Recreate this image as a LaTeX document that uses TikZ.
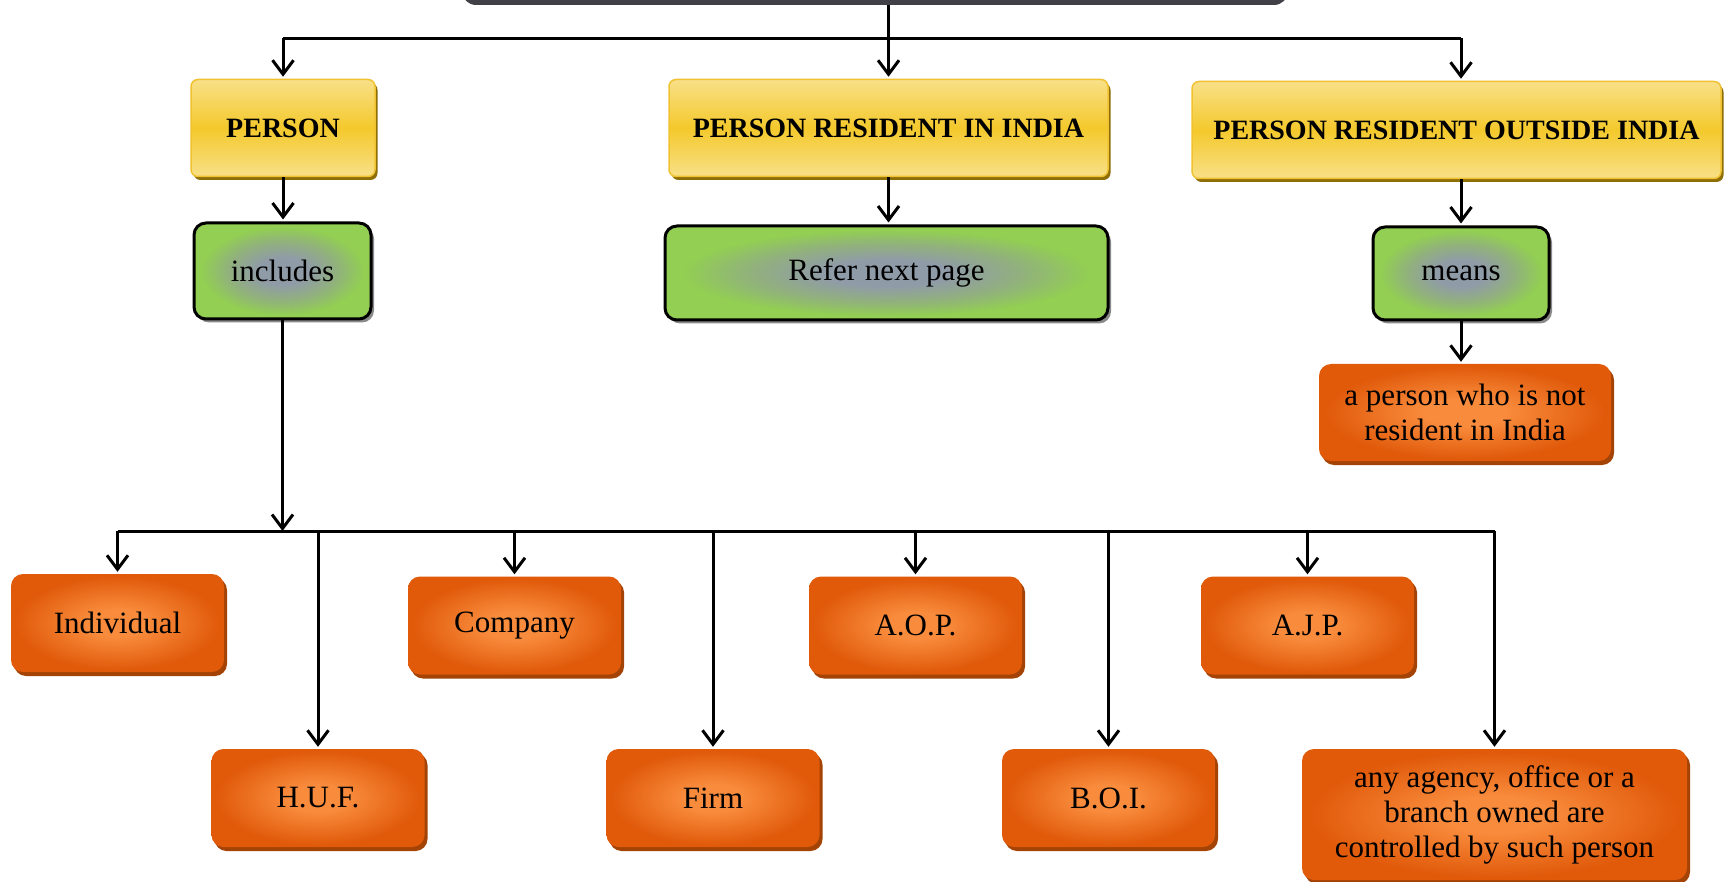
\documentclass[tikz,border=0pt]{standalone}
\usepackage{fontspec}
\setmainfont{Liberation Serif}
\usetikzlibrary{arrows.meta,shadows}

\definecolor{barc}{HTML}{404046}
\definecolor{yLight}{HTML}{F8E088}
\definecolor{yMid}{HTML}{F4C92C}
\definecolor{yEdge}{HTML}{F0C232}
\definecolor{yShadow}{HTML}{8E6E06}
\definecolor{gGreen}{HTML}{92CF52}
\definecolor{gBlob}{HTML}{909BA8}
\definecolor{gSoft}{HTML}{91B07E}
\definecolor{gShadow}{HTML}{8A8A8A}
\definecolor{oLight}{HTML}{F98B3C}
\definecolor{oDark}{HTML}{E05A0A}
\definecolor{oShadow}{HTML}{A44306}

% green boxes: soft grey-blue glow in the middle
\pgfdeclareradialshading{greenblob}{\pgfpoint{0bp}{0bp}}{color(0bp)=(gBlob); color(7bp)=(gBlob); color(15bp)=(gSoft); color(23bp)=(gGreen); color(50bp)=(gGreen)}
% orange boxes: lighter centre
\pgfdeclareradialshading{orangeglow}{\pgfpoint{0bp}{0bp}}{color(0bp)=(oLight); color(7bp)=(oLight); color(24bp)=(oDark); color(50bp)=(oDark)}

\tikzset{
  bar/.style={fill=barc, rounded corners=14pt, inner sep=0pt},
  headbox/.style={rounded corners=7pt, draw=yEdge, line width=1.5pt,
    top color=yLight, bottom color=yLight, middle color=yMid,
    drop shadow={shadow xshift=2.5pt, shadow yshift=-3.5pt, fill=yShadow, opacity=1},
    minimum height=97pt, inner sep=0pt,
    font=\fontsize{28}{32}\selectfont\bfseries},
  notebox/.style={rounded corners=12pt, draw=black, line width=3pt,
    shade, shading=greenblob,
    drop shadow={shadow xshift=3pt, shadow yshift=-3.5pt, fill=gShadow, opacity=1},
    inner sep=0pt, font=\fontsize{31}{35}\selectfont},
  leaf/.style={rounded corners=12pt, shade, shading=orangeglow,
    drop shadow={shadow xshift=3pt, shadow yshift=-4pt, fill=oShadow, opacity=1},
    minimum width=213pt, minimum height=98pt, inner sep=0pt, align=center,
    font=\fontsize{31}{35}\selectfont},
  line/.style={line width=3pt, draw=black},
  conn/.style={line, -{Straight Barb[length=14pt,width=21pt]}, shorten >=2pt},
}

\begin{document}
\begin{tikzpicture}[x=1pt,y=-1pt]
  \useasboundingbox (0,0) rectangle (1724,882);
  \fill[white] (0,0) rectangle (1724,882);

  % title bar, only its lower edge shows
  \node[bar, minimum width=826pt, minimum height=44pt] (root) at (875,-17) {};

  % first level
  \node[headbox, minimum width=184pt] (person) at (283,128) {PERSON};
  \node[headbox, minimum width=439pt] (res) at (888.5,128) {PERSON RESIDENT IN INDIA};
  \node[headbox, minimum width=529pt] (out) at (1456.5,130) {PERSON RESIDENT OUTSIDE INDIA};

  % second level
  \node[notebox, minimum width=177pt, minimum height=96pt] (incl) at (282.5,271) {includes};
  \node[notebox, minimum width=443pt, minimum height=94pt] (refer) at (886.5,273) {Refer next page};
  \node[notebox, minimum width=176pt, minimum height=93pt] (means) at (1461,273.5) {means};

  \node[leaf, minimum width=292pt, minimum height=97pt] (notres) at (1465,412.5)
    {a person who is not\\resident in India};

  % kinds of person
  \node[leaf] (indiv) at (117.5,623) {Individual};
  \node[leaf] (huf) at (318,798) {H.U.F.};
  \node[leaf] (comp) at (514.5,625.5) {Company};
  \node[leaf] (firm) at (713,798) {Firm};
  \node[leaf] (aop) at (915.5,625.5) {A.O.P.};
  \node[leaf] (boi) at (1108.5,798) {B.O.I.};
  \node[leaf] (ajp) at (1307.5,625.5) {A.J.P.};
  \node[leaf, minimum width=385pt, minimum height=131pt] (agency) at (1494.5,814.5)
    {any agency, office or a\\branch owned are\\controlled by such person};

  % connectors from the title bar
  \coordinate (topbus) at (0,38.5);
  \draw[conn] (res.north |- root.south) -- (res.north);
  \draw[line] (person.north |- topbus) -- (means.north |- topbus);
  \draw[conn] (person.north |- topbus) -- (person.north);
  \draw[conn] (means.north |- topbus) -- (means.north |- out.north);

  % down to the second level
  \draw[conn] (person.south) -- (person.south |- incl.north);
  \draw[conn] (res.south) -- (res.south |- refer.north);
  \draw[conn] (means.north |- out.south) -- (means.north);
  \draw[conn] (means.south) -- (means.south |- notres.north);

  % bus to the kinds of person
  \coordinate (bus) at (0,531);
  \draw[conn, shorten >=0pt] (incl.south) -- (incl.south |- bus);
  \draw[line] (indiv.north |- bus) -- (agency.north |- bus);
  \foreach \n in {indiv,huf,comp,firm,aop,boi,ajp,agency}
    \draw[conn] (\n.north |- bus) -- (\n.north);
\end{tikzpicture}
\end{document}
